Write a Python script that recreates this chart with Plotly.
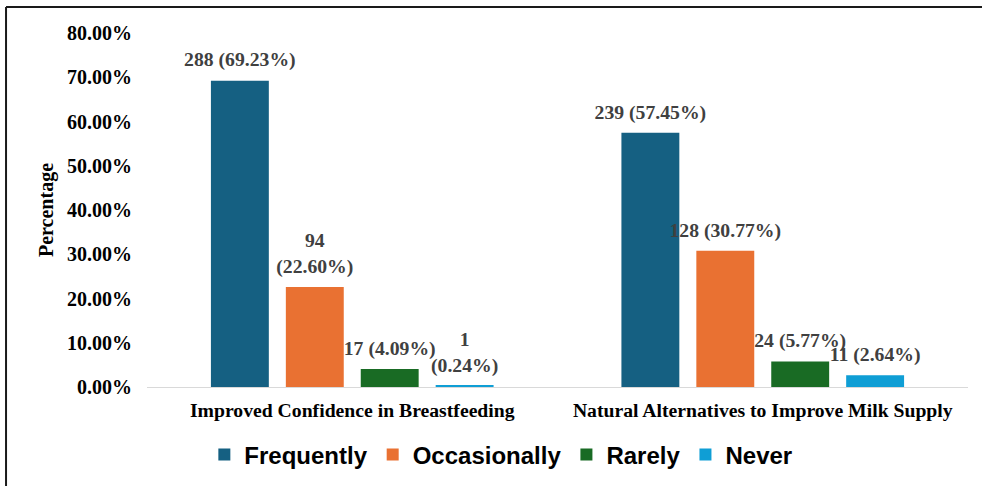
import plotly.graph_objects as go

# Survey responses per statement
categories = ["Improved Confidence in Breastfeeding",
              "Natural Alternatives to Improve Milk Supply"]
series = ["Frequently", "Occasionally", "Rarely", "Never"]
counts = {
    "Frequently": [288, 239],
    "Occasionally": [94, 128],
    "Rarely": [17, 24],
    "Never": [1, 11],
}
percents = {
    "Frequently": [69.23, 57.45],
    "Occasionally": [22.60, 30.77],
    "Rarely": [4.09, 5.77],
    "Never": [0.24, 2.64],
}
y_ticks = [0.0, 0.1, 0.2, 0.3, 0.4, 0.5, 0.6, 0.7, 0.8]

colors = {
    "Frequently": "#156082",
    "Occasionally": "#E97132",
    "Rarely": "#196B24",
    "Never": "#0F9ED5",
}
# labels that break onto two lines
wrapped = {("Occasionally", 0), ("Never", 0)}
# extra clearance between a bar top and its label (axis units)
LABEL_PAD = 0.014

SERIF = "Liberation Serif, Times New Roman, serif"
SANS = "Liberation Sans, Arial, sans-serif"

fig = go.Figure()
for s in series:
    vals = [p / 100 for p in percents[s]]
    texts = []
    for i, (n, p) in enumerate(zip(counts[s], percents[s])):
        sep = "<br>" if (s, i) in wrapped else " "
        texts.append(f"{n}{sep}({p:.2f}%)")
    fig.add_trace(go.Bar(
        name=s,
        x=categories,
        y=vals,
        offsetgroup=s,
        marker=dict(color=colors[s], line=dict(width=0)),
        hoverinfo="skip",
    ))
    # transparent twin bar that carries the value label slightly higher
    fig.add_trace(go.Bar(
        name=s,
        x=categories,
        y=vals,
        base=LABEL_PAD,
        offsetgroup=s,
        showlegend=False,
        marker=dict(color="rgba(0,0,0,0)", line=dict(width=0)),
        text=texts,
        textposition="outside",
        constraintext="none",
        cliponaxis=False,
        textfont=dict(family=SERIF, size=19.7, color="#404040", weight="bold"),
        hoverinfo="skip",
    ))

fig.update_layout(
    width=982, height=486,
    margin=dict(l=147, r=14, t=33, b=99, autoexpand=False),
    paper_bgcolor="white", plot_bgcolor="white",
    barmode="group",
    bargap=0.27,
    bargroupgap=0.227,
    showlegend=True,
    legend=dict(
        orientation="h",
        x=0.431, xanchor="center", xref="paper",
        y=-0.192, yanchor="middle",
        font=dict(family=SANS, size=24, color="black", weight="bold"),
        itemwidth=30,
        traceorder="normal",
    ),
    xaxis=dict(
        showline=True, linecolor="#d9d9d9", linewidth=1,
        ticks="", showgrid=False,
        tickfont=dict(family=SERIF, size=19.7, color="black", weight="bold"),
        ticklabelstandoff=5,
    ),
    yaxis=dict(
        range=[0, 0.8],
        tickvals=y_ticks,
        tickformat=".2%",
        showgrid=False, showline=False, zeroline=False,
        ticks="",
        tickfont=dict(family=SERIF, size=20, color="black", weight="bold"),
        ticklabelstandoff=14,
    ),
    annotations=[dict(
        text="Percentage", textangle=-90,
        xref="paper", yref="paper", x=-0.123, y=0.5,
        xanchor="center", yanchor="middle", showarrow=False,
        font=dict(family=SERIF, size=20, color="black", weight="bold"),
    )],
    shapes=[
        # frame along top and left edges
        dict(type="line", xref="paper", yref="paper",
             x0=-0.1717, x1=1.02, y0=1.0734, y1=1.0734,
             line=dict(color="#1a1a1a", width=2)),
        dict(type="line", xref="paper", yref="paper",
             x0=-0.1717, x1=-0.1717, y0=1.0734, y1=-0.29,
             line=dict(color="#1a1a1a", width=2)),
    ],
)

fig.write_html("out.html")
